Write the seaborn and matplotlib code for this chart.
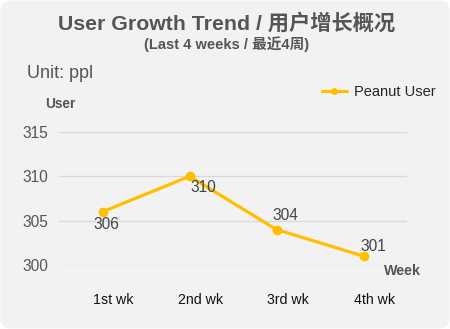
import matplotlib
matplotlib.use("Agg")
import matplotlib.pyplot as plt
import matplotlib.transforms as mtransforms
from matplotlib.patches import FancyBboxPatch
import seaborn as sns
import pandas as pd

# Weekly user counts
weeks = ["1st wk", "2nd wk", "3rd wk", "4th wk"]
users = [306, 310, 304, 301]
y_ticks = [300, 305, 310, 315]
series_name = "Peanut User"

sns.set_theme(style="white")
plt.rcParams["font.family"] = ["Liberation Sans", "Noto Sans CJK SC", "DejaVu Sans"]

LINE = "#FFBF00"
GRAY = "#555555"

fig = plt.figure(figsize=(4.5, 3.29), dpi=100)
fig.patch.set_facecolor("white")

# Rounded card background
card = FancyBboxPatch((0.5, 0.5), 449, 328,
                      boxstyle="round,pad=0,rounding_size=10",
                      transform=mtransforms.IdentityTransform(),
                      facecolor="#f2f2f2", edgecolor="none", zorder=-10)
fig.patches.append(card)

ax = fig.add_axes([59 / 450, (329 - 265) / 329, 348 / 450, 133 / 329])
ax.set_facecolor("none")

df = pd.DataFrame({"week": weeks, "users": users, "series": series_name})
df["pos"] = range(len(weeks))
sns.lineplot(data=df, x="pos", y="users", hue="series", palette=[LINE],
             marker="o", markersize=7, markeredgewidth=0, linewidth=2.3,
             ax=ax, clip_on=False, legend=False)

ax.set_xlim(-0.5, len(weeks) - 0.5)
ax.set_ylim(300, 315)
ax.set_yticks(y_ticks)
ax.set_xticks(range(len(weeks)))
ax.set_xticklabels(weeks)
ax.set_xlabel("")
ax.set_ylabel("")
for s in ax.spines.values():
    s.set_visible(False)
ax.grid(axis="y", color="#d9d9d9", linewidth=1)
ax.grid(axis="x", visible=False)
ax.tick_params(axis="y", length=0, pad=8, labelsize=11.2, labelcolor=GRAY)
ax.tick_params(axis="x", length=0, pad=20, labelsize=10.2, labelcolor="#111111")
shift = mtransforms.ScaledTranslation(11 / 100, 0, fig.dpi_scale_trans)
for lab in ax.get_xticklabels():
    lab.set_transform(lab.get_transform() + shift)

# Value labels next to each point
offsets = [(3, -9), (10, -8), (6.5, 10), (7, 7)]
for i, (v, off) in enumerate(zip(users, offsets)):
    ax.annotate(str(v), (i, v), xytext=off, textcoords="offset points",
                ha="center", va="center", fontsize=11.2, color="#444444")

# Titles and axis names
fig.text(227 / 450, 1 - 23 / 329, "User Growth Trend / 用户增长概况",
         ha="center", va="center", fontsize=15.3, fontweight="bold", color=GRAY)
fig.text(227 / 450, 1 - 44.5 / 329, "(Last 4 weeks / 最近4周)",
         ha="center", va="center", fontsize=10.5, fontweight="bold", color=GRAY)
fig.text(27 / 450, 1 - 73 / 329, "Unit: ppl", ha="left", va="center",
         fontsize=13, color=GRAY)
fig.text(45 / 450, 1 - 104 / 329, "User", ha="left", va="center",
         fontsize=9.8, fontweight="bold", color=GRAY)
fig.text(384 / 450, 1 - 271 / 329, "Week", ha="left", va="center",
         fontsize=10.3, fontweight="bold", color=GRAY)

# Legend
handle = plt.Line2D([], [], color=LINE, linewidth=2.3, marker="o",
                    markersize=5, markeredgewidth=0)
fig.legend([handle], [series_name], loc="center right",
           bbox_to_anchor=(436 / 450, 1 - 92 / 329), frameon=False,
           fontsize=10.5, handlelength=1.75, handletextpad=0.5,
           borderaxespad=0, borderpad=0)

fig.savefig("out.png", dpi=100)
